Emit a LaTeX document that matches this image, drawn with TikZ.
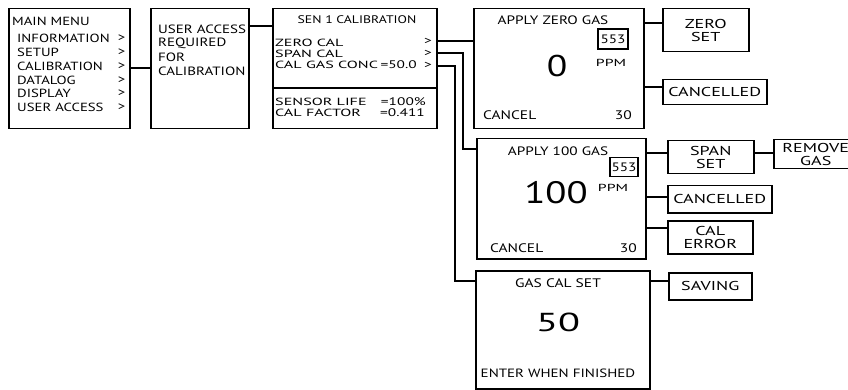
\documentclass[tikz,border=0pt]{standalone}
\usepackage{fontspec}
\setmainfont[FakeStretch=1.25]{PT Sans}
\newfontfamily\widefont[FakeStretch=1.4]{PT Sans}
\newfontfamily\xwidefont[FakeStretch=1.55]{PT Sans}
\newcommand\fMenu{\fontsize{11.8}{14}\selectfont}
\newcommand\fUser{\fontsize{12}{14}\selectfont}
\newcommand\fSen{\xwidefont\fontsize{10.4}{11}\selectfont}
\newcommand\fVal{\widefont\fontsize{11}{11}\selectfont}
\newcommand\fHead{\fontsize{11}{12}\selectfont}
\newcommand\fApp{\fontsize{12.2}{12}\selectfont}
\newcommand\fCan{\fontsize{12.4}{12}\selectfont}
\newcommand\fEnt{\fontsize{12}{12}\selectfont}
\newcommand\fPpm{\xwidefont\fontsize{10.2}{10}\selectfont}
\newcommand\fBox{\widefont\fontsize{12.9}{12.5}\selectfont}
\begin{document}
\begin{tikzpicture}[x=1pt,y=-1pt,
  box/.style={draw,line width=1.5pt,inner sep=0pt,anchor=north west},
  lbl/.style={inner sep=0pt,anchor=west},
  ctr/.style={inner sep=0pt,anchor=center},
  rgt/.style={inner sep=0pt,anchor=east},
  sbox/.style={draw,line width=1.5pt,inner sep=0pt,anchor=north west,align=center,font=\fBox},
  conn/.style={line width=1.5pt}]
\useasboundingbox (0,0) rectangle (848,390);
\clip (0,0) rectangle (848,390);
% main boxes
\node[box,minimum width=121pt,minimum height=120pt] (m) at (8,8) {};
\node[box,minimum width=98pt,minimum height=120pt] (u) at (150,8) {};
\node[box,minimum width=164pt,minimum height=120pt] (s) at (272,8) {};
\node[box,minimum width=170pt,minimum height=120pt] (z) at (473,8) {};
\node[box,minimum width=169pt,minimum height=120pt] (p) at (476,138) {};
\node[box,minimum width=174pt,minimum height=118pt] (g) at (475,270) {};
% small boxes
\node[sbox,minimum width=86pt,minimum height=43pt] (zs) at (662,8) {ZERO\\SET};
\node[sbox,minimum width=104pt,minimum height=25pt] (zc) at (662,79) {CANCELLED};
\node[sbox,minimum width=86pt,minimum height=33pt] (ss) at (667,140) {SPAN\\SET};
\node[sbox,minimum width=84pt,minimum height=29pt] (rg) at (773,139) {REMOVE\\GAS};
\node[sbox,minimum width=104pt,minimum height=27pt] (pc) at (667,185) {CANCELLED};
\node[sbox,minimum width=85pt,minimum height=33pt] (ce) at (667,220) {CAL\\ERROR};
\node[sbox,minimum width=83pt,minimum height=27pt] (sv) at (668,272) {SAVING};
% main menu text
\node[lbl,font=\fMenu] (m0) at (12,21) {MAIN MENU};
\node[lbl,font=\fMenu] (m1) at (17,38) {INFORMATION};
\node[lbl,font=\fMenu] (m2) at (17,52) {SETUP};
\node[lbl,font=\fMenu] (m3) at (17,66) {CALIBRATION};
\node[lbl,font=\fMenu] (m4) at (17,80) {DATALOG};
\node[lbl,font=\fMenu] (m5) at (17,93) {DISPLAY};
\node[lbl,font=\fMenu] (m6) at (17,107) {USER ACCESS};
\foreach \yy [count=\i] in {38,52,66,80,93,107}
  \node[ctr,font=\fMenu] (mg\i) at (121.5,\yy) {>};
% user access
\node[lbl,font=\fUser] (u1) at (158,29) {USER ACCESS};
\node[lbl,font=\fUser] (u2) at (158,43) {REQUIRED};
\node[lbl,font=\fUser] (u3) at (158,57) {FOR};
\node[lbl,font=\fUser] (u4) at (158,71) {CALIBRATION};
% sen 1 calibration
\node[ctr,font=\fHead] (s0) at (357,20) {SEN 1 CALIBRATION};
\node[lbl,font=\fSen] (s1) at (275,43) {ZERO CAL};
\node[lbl,font=\fSen] (s2) at (275,54) {SPAN CAL};
\node[lbl,font=\fSen] (s3) at (275,65) {CAL GAS CONC};
\node[rgt,font=\fVal] (s3v) at (417,65) {=50.0};
\node[ctr,font=\fVal] (g1) at (428,41) {>};
\node[ctr,font=\fVal] (g2) at (428,53) {>};
\node[ctr,font=\fVal] (g3) at (428,65) {>};
\draw[conn] (s.west |- 0,88) coordinate (dv1) -- (s.east |- 0,88) coordinate (dv2);
\node[lbl,font=\fSen] (s4) at (275,102) {SENSOR LIFE};
\node[lbl,font=\fSen] (s5) at (275,113) {CAL FACTOR};
\node[rgt,font=\fVal] (s4v) at (426,102) {=100\%};
\node[rgt,font=\fVal] (s5v) at (425,113) {=0.411};
% apply zero gas
\node[ctr,font=\fApp] (z0) at (553,20) {APPLY ZERO GAS};
\node[box,minimum width=30pt,minimum height=20pt,font=\fApp,anchor=center,line width=1.2pt] (z553) at (613,39) {553};
\node[ctr,font=\fontsize{30}{30}\selectfont] (zn) at (557,66) {0};
\node[ctr,font=\fPpm] (zppm) at (611,63) {PPM};
\node[lbl,font=\fCan] (zcan) at (483,115) {CANCEL};
\node[rgt,font=\fCan] (z30) at (632,115) {30};
% apply 100 gas
\node[ctr,font=\fApp] (p0) at (558,151) {APPLY 100 GAS};
\node[box,minimum width=28pt,minimum height=19pt,font=\fApp,anchor=center,line width=1.2pt] (p553) at (624,167) {553};
\node[ctr,font=\fontsize{31}{31}\selectfont] (pn) at (556,193) {100};
\node[ctr,font=\fPpm] (pppm) at (613,188) {PPM};
\node[lbl,font=\fCan] (pcan) at (490,248) {CANCEL};
\node[rgt,font=\fCan] (p30) at (637,248) {30};
% gas cal set
\node[ctr,font=\fCan] (g0) at (558,283) {GAS CAL SET};
\node[ctr,font=\xwidefont\fontsize{26}{26}\selectfont] (gn) at (558,322) {50};
\node[ctr,font=\fEnt] (ge) at (558,373) {ENTER WHEN FINISHED};
% connectors
\draw[conn] (m.east |- 0,68) -- (u.west |- 0,68);
\draw[conn] (u.east |- 0,26) -- (s.west |- 0,26);
\draw[conn] (s.east |- 0,41) -- (z.west |- 0,41);
\draw[conn] (s.east |- 0,53) -| (463,149) coordinate (k1) -- (p.west |- k1);
\draw[conn] (s.east |- 0,66) -| (455,281) coordinate (k2) -- (g.west |- k2);
\draw[conn] (z.east |- 0,23) -- (zs.west |- 0,23);
\draw[conn] (z.east |- 0,87) -- (zc.west |- 0,87);
\draw[conn] (p.east |- 0,153) -- (ss.west |- 0,153);
\draw[conn] (ss.east |- 0,153) -- (rg.west |- 0,153);
\draw[conn] (p.east |- 0,197) -- (pc.west |- 0,197);
\draw[conn] (p.east |- 0,228) -- (ce.west |- 0,228);
\draw[conn] (g.east |- 0,281) -- (sv.west |- 0,281);
\end{tikzpicture}
\end{document}
